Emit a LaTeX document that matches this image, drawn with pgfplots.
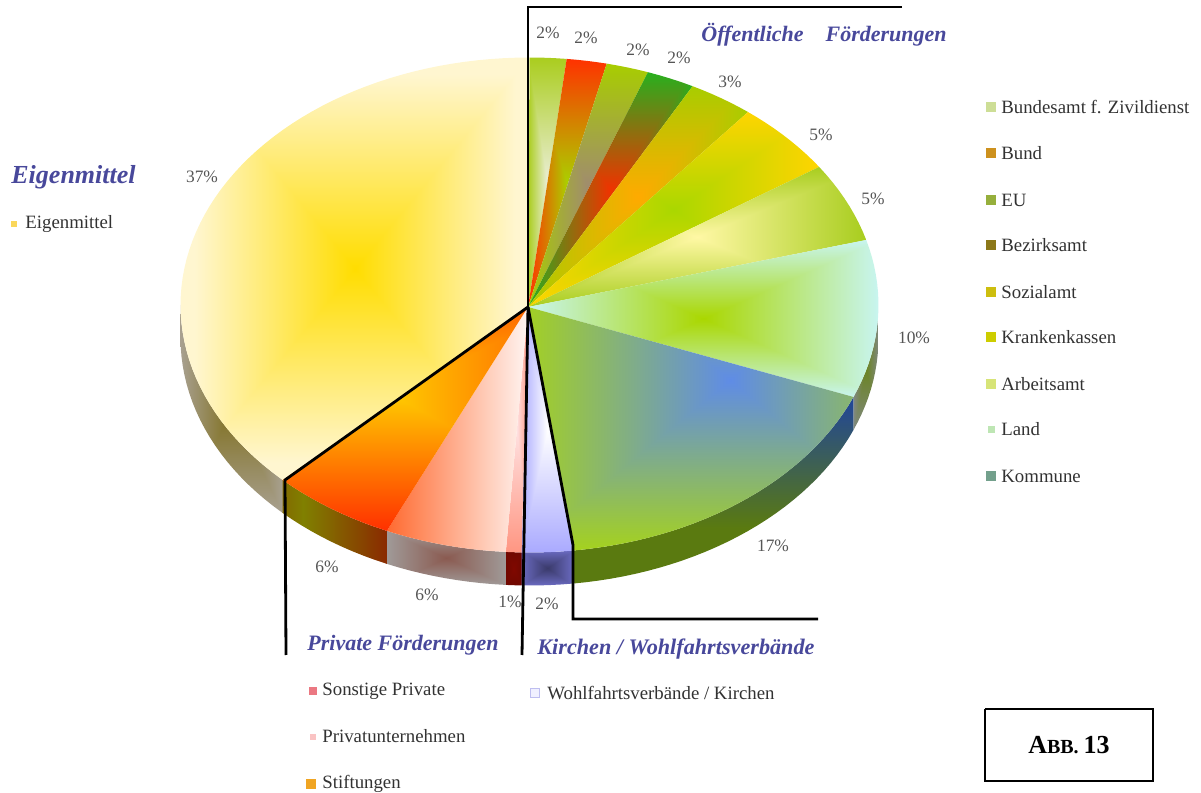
\documentclass[border=0pt]{standalone}
\usepackage{fontspec}
\setmainfont{Liberation Serif}
\usepackage{pgfplots}
\pgfplotsset{compat=1.18}
\usetikzlibrary{shadings}

% Rectangular "from centre" gradient: colour depends on max(|u-cu|/su,|v-cv|/sv),
% with u and v running from 0 to 100 across the bounding box of the filled path.
% #1 name, #2 cu, #3 cv, #4 su, #5 sv, #6-8 centre rgb, #9 rim rgb
\newcommand\rectshade[9]{%
  \begingroup
  \rimrgb#9%
  \pgfmathsetmacro\rz{#6/255}\pgfmathsetmacro\gz{#7/255}\pgfmathsetmacro\bz{#8/255}%
  \pgfmathsetmacro\dr{\rone/255-\rz}\pgfmathsetmacro\dg{\gone/255-\gz}\pgfmathsetmacro\db{\bone/255-\bz}%
  \edef\tmp{\noexpand\pgfdeclarefunctionalshading{#1}{\noexpand\pgfpointorigin}{\noexpand\pgfpoint{100bp}{100bp}}{}{%
    50 sub 2 mul 50 add #3 sub abs #5 div exch
    50 sub 2 mul 50 add #2 sub abs #4 div 2 copy lt {exch} if pop dup 1 gt {pop 1} if
    dup \dr\space mul \rz\space add exch dup \dg\space mul \gz\space add exch \db\space mul \bz\space add}}%
  \tmp
  \endgroup}
\def\rimrgb#1 #2 #3;{\def\rone{#1}\def\gone{#2}\def\bone{#3}}

% top faces
\rectshade{fA}{50}{50}{50}{50}{235}{238}{215}{170 205 30;}
\rectshade{fB}{50}{50}{50}{50}{170}{208}{0}{255 50 0;}
\rectshade{fC}{50}{50}{50}{50}{160}{140}{110}{168 205 0;}
\rectshade{fD}{50}{50}{50}{50}{240}{50}{0}{40 175 30;}
\rectshade{fE}{50}{50}{50}{50}{255}{170}{0}{168 205 0;}
\rectshade{fF}{50}{50}{50}{50}{170}{215}{0}{255 213 0;}
\rectshade{fG}{50}{50}{50}{50}{255}{248}{165}{168 205 30;}
\rectshade{fH}{50}{50}{50}{50}{170}{215}{0}{200 245 240;}
\rectshade{fI}{62}{70}{64}{70}{95}{140}{230}{165 210 30;}
\rectshade{fJ}{50}{50}{50}{50}{255}{255}{255}{170 170 255;}
\rectshade{fK}{50}{50}{50}{50}{255}{225}{225}{255 150 130;}
\rectshade{fL}{100}{50}{100}{5000}{255}{245}{242}{255 106 48;}
\rectshade{fM}{46}{60}{100}{60}{255}{200}{0}{255 48 0;}
\rectshade{fN}{50}{50}{46}{46}{255}{221}{0}{255 246 208;}
% side walls
\rectshade{wH}{50}{50}{50}{50}{106}{132}{32}{128 136 128;}
\rectshade{wI}{100}{100}{70}{70}{32}{69}{154}{90 122 16;}
\rectshade{wJ}{50}{50}{50}{50}{58}{58}{106}{106 106 192;}
\rectshade{wK}{50}{50}{50}{50}{128}{8}{0}{112 8 0;}
\rectshade{wL}{50}{50}{50}{50}{138}{90}{80}{160 154 152;}
\rectshade{wM}{20}{50}{80}{5000}{128}{128}{0}{138 42 0;}
\rectshade{wN}{50}{50}{50}{50}{128}{112}{32}{168 160 144;}

\definecolor{headblue}{RGB}{72,72,155}
\definecolor{txt}{RGB}{50,50,50}
\definecolor{pct}{RGB}{85,85,85}
\definecolor{kA}{RGB}{205,222,150}
\definecolor{kB}{RGB}{205,145,30}
\definecolor{kC}{RGB}{150,175,60}
\definecolor{kD}{RGB}{140,120,25}
\definecolor{kE}{RGB}{205,190,15}
\definecolor{kF}{RGB}{205,205,0}
\definecolor{kG}{RGB}{215,228,120}
\definecolor{kH}{RGB}{190,230,180}
\definecolor{kI}{RGB}{115,160,140}
\definecolor{kN}{RGB}{250,215,90}
\definecolor{kK}{RGB}{235,120,130}
\definecolor{kL}{RGB}{250,195,195}
\definecolor{kM}{RGB}{240,165,35}
\definecolor{kJa}{RGB}{190,190,240}
\definecolor{kJb}{RGB}{240,240,255}

% Appends the rim of the ellipse between two percentages, lowered by a given depth
\newcommand\rimarc[3]{%
  \pgfmathtruncatemacro\nseg{max(1,ceil(abs(#2-#1)/0.6))}%
  \foreach \k in {0,...,\nseg}{%
    \pgfmathsetmacro\th{3.6*(#1+(#2-#1)*\k/\nseg)}%
    \pgfmathsetmacro\px{529.5+349*sin(\th)}%
    \pgfmathsetmacro\py{305-247.5*cos(\th)+#3}%
    \xdef\polypts{\polypts (\px,\py)}%
  }}

% Share of each slice in percent, clockwise from twelve o'clock
\def\slices{1.70/A,1.85/B,1.96/C,2.23/D,3.03/E,4.81/F,5.19/G,10.29/H,16.94/I,2.36/J,0.72/K,5.62/L,5.81/M,37.49/N}

\begin{document}
\begin{tikzpicture}[every node/.style={font=\fontsize{9.4pt}{11pt}\selectfont,text=txt,inner sep=0pt}]
\begin{axis}[
  width=600.5pt,height=395.5pt,scale only axis,
  xmin=0,xmax=1201,ymin=0,ymax=791,y dir=reverse,
  axis lines=none,clip=false,
  cycle list={{black}},
]
\path (axis cs:0,0) (axis cs:1201,791);
% side walls of the visible half
\xdef\running{0}
\foreach \v/\n in \slices {
  \pgfmathsetmacro\lo{max(\running,25)}
  \pgfmathsetmacro\hi{min(\running+\v,75)}
  \pgfmathparse{\hi>\lo?1:0}
  \ifdim\pgfmathresult pt>0.5pt
    \xdef\polypts{}
    \rimarc{\lo}{\hi}{0}
    \rimarc{\hi}{\lo}{33}
    \edef\tmp{\noexpand\addplot[draw=none,mark=none,shading=w\n,forget plot] coordinates {\polypts};}
    \tmp
  \fi
  \pgfmathsetmacro\r{\running+\v}
  \xdef\running{\r}
}
% top faces
\xdef\running{0}
\foreach \v/\n in \slices {
  \pgfmathsetmacro\hi{\running+\v}
  \xdef\polypts{(528,307)}
  \rimarc{\running}{\hi}{0}
  \edef\tmp{\noexpand\addplot[draw=none,mark=none,shading=f\n,forget plot] coordinates {\polypts};}
  \tmp
  \xdef\running{\hi}
}
% leader lines grouping the slices
\addplot[black,line width=1.4pt,mark=none] coordinates {(902,7) (528,7) (528,307)};
\addplot[black,line width=1.4pt,mark=none] coordinates {(528,307) (285,480) (286,655)};
\addplot[black,line width=1.4pt,mark=none] coordinates {(528,307) (522,655)};
\addplot[black,line width=1.4pt,mark=none] coordinates {(528,307) (573,545) (573,619) (818,619)};
% figure tag
\addplot[black,line width=0.9pt,mark=none] coordinates {(985,709) (1153,709) (1153,781) (985,781) (985,709)};
% legend keys
\pgfplotsset{key/.style={only marks,mark=square*,mark size=2.4pt,mark options={draw=#1,fill=#1}},
  skey/.style 2 args={only marks,mark=square*,mark size=#2,mark options={draw=#1,fill=#1}}}
\addplot[key=kA] coordinates {(991,107)};
\addplot[key=kB] coordinates {(991,153)};
\addplot[key=kC] coordinates {(991,200)};
\addplot[key=kD] coordinates {(991,245)};
\addplot[key=kE] coordinates {(991,292)};
\addplot[key=kF] coordinates {(991,337)};
\addplot[key=kG] coordinates {(991,384)};
\addplot[skey={kH}{1.5pt}] coordinates {(991,429)};
\addplot[key=kI] coordinates {(991,476)};
\addplot[skey={kN}{1.4pt}] coordinates {(14,224)};
\addplot[skey={kK}{1.8pt}] coordinates {(313,691)};
\addplot[skey={kL}{1.4pt}] coordinates {(313,737)};
\addplot[key=kM] coordinates {(311,784)};
\addplot[only marks,mark=square*,mark size=2.1pt,mark options={draw=kJa,fill=kJb}] coordinates {(535,693)};
% legend entries
\node[anchor=west] at (axis cs:1001,107) {Bundesamt f. Zivildienst};
\node[anchor=west] at (axis cs:1001,153) {Bund};
\node[anchor=west] at (axis cs:1001,200) {EU};
\node[anchor=west] at (axis cs:1001,245) {Bezirksamt};
\node[anchor=west] at (axis cs:1001,292) {Sozialamt};
\node[anchor=west] at (axis cs:1001,337) {Krankenkassen};
\node[anchor=west] at (axis cs:1001,384) {Arbeitsamt};
\node[anchor=west] at (axis cs:1001,429) {Land};
\node[anchor=west] at (axis cs:1001,476) {Kommune};
\node[anchor=west] at (axis cs:25,224) {Eigenmittel};
\node[anchor=west] at (axis cs:322,691) {Sonstige Private};
\node[anchor=west] at (axis cs:322,736) {Privatunternehmen};
\node[anchor=west] at (axis cs:322,784) {Stiftungen};
\node[anchor=west] at (axis cs:547,693) {Wohlfahrtsverbände / Kirchen};
% group headings
\tikzset{head/.style={font=\fontsize{#1}{14pt}\selectfont\bfseries\itshape,text=headblue}}
\node[head=13pt,anchor=west] at (axis cs:11,177) {Eigenmittel};
\node[head=11pt,anchor=west] at (axis cs:701,35) {Öffentliche\hspace{1em}Förderungen};
\node[head=11pt,anchor=west] at (axis cs:307,645) {Private Förderungen};
\node[head=11.1pt,anchor=west] at (axis cs:537,649) {Kirchen / Wohlfahrtsverbände};
% percentage labels
\tikzset{pc/.style={font=\fontsize{8.7pt}{10pt}\selectfont,text=pct}}
\node[pc] at (axis cs:548,33) {2\%};
\node[pc] at (axis cs:586,38) {2\%};
\node[pc] at (axis cs:638,50) {2\%};
\node[pc] at (axis cs:679,58) {2\%};
\node[pc] at (axis cs:730,82) {3\%};
\node[pc] at (axis cs:821,135) {5\%};
\node[pc] at (axis cs:873,199) {5\%};
\node[pc] at (axis cs:914,338) {10\%};
\node[pc] at (axis cs:773,546) {17\%};
\node[pc] at (axis cs:547,604) {2\%};
\node[pc] at (axis cs:510,602) {1\%};
\node[pc] at (axis cs:427,595) {6\%};
\node[pc] at (axis cs:327,567) {6\%};
\node[pc] at (axis cs:202,177) {37\%};
\node[font=\bfseries,text=black] at (axis cs:1069,745) {\fontsize{13pt}{15pt}\selectfont A\fontsize{10pt}{12pt}\selectfont BB. \fontsize{13pt}{15pt}\selectfont 13};
\end{axis}
\end{tikzpicture}
\end{document}
